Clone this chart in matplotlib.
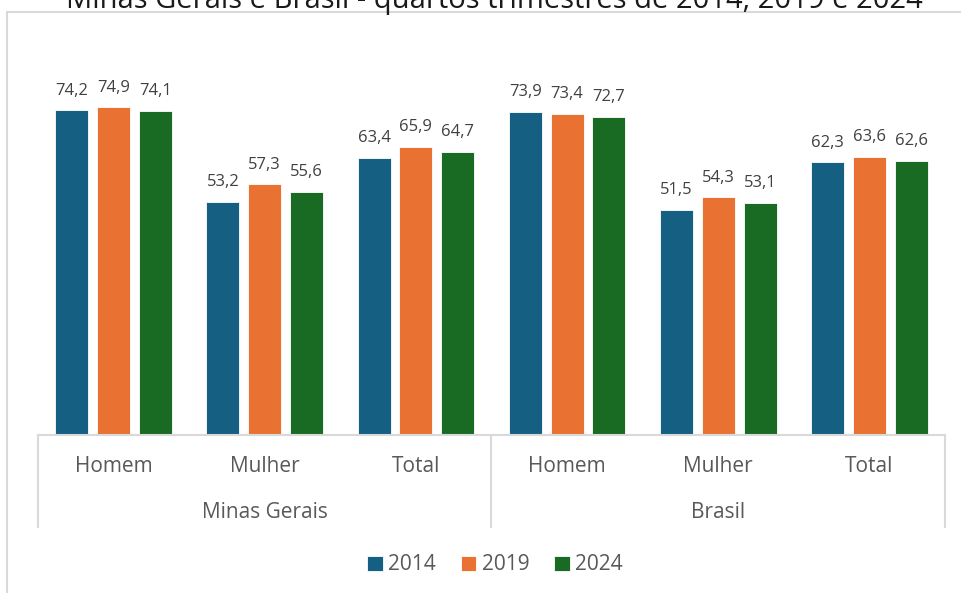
import numpy as np
import matplotlib.pyplot as plt
from matplotlib.patches import Rectangle
from matplotlib.lines import Line2D

plt.rcParams['font.family'] = ['Open Sans', 'DejaVu Sans']

# data
regions = ['Minas Gerais', 'Brasil']
categories = ['Homem', 'Mulher', 'Total']
years = ['2014', '2019', '2024']
vals_2014 = [74.2, 53.2, 63.4, 73.9, 51.5, 62.3]
vals_2019 = [74.9, 57.3, 65.9, 73.4, 54.3, 63.6]
vals_2024 = [74.1, 55.6, 64.7, 72.7, 53.1, 62.6]
colors = ['#156082', '#E97132', '#196B24']
title = 'Minas Gerais e Brasil - quartos trimestres de 2014, 2019 e 2024'

W, H = 961, 593
fig = plt.figure(figsize=(W / 100, H / 100), dpi=100)

def fx(px):
    return px / W

def fy(py):
    return 1 - py / H

# chart area border (light grey, partly cut off)
fig.patches.append(Rectangle((fx(7), fy(1000)), 2, fy(12) - fy(1000),
                             transform=fig.transFigure, fill=False,
                             edgecolor='#D9D9D9', linewidth=1.5))
# title is cut by the top edge in the reference
fig.text(fx(494), fy(8), title, ha='center', va='baseline', fontsize=21,
         color='#1a1a1a')

# plot area
x0, x1, ybase, ytop = 38, 945, 435, 85
ax = fig.add_axes([fx(x0), fy(ybase), fx(x1) - fx(x0), fy(ytop) - fy(ybase)])
ax.set_xlim(0, 6)
ax.set_ylim(0, 80)
ax.axis('off')

x = np.arange(6) + 0.5
bw = 0.218
step = 0.277
series = [vals_2014, vals_2019, vals_2024]
for i, (vals, c) in enumerate(zip(series, colors)):
    xs = x + (i - 1) * step
    ax.bar(xs, vals, width=bw, color=c, edgecolor='white', linewidth=0.6,
           label=years[i])
    for xv, v in zip(xs, vals):
        ax.annotate(f'{v:.1f}'.replace('.', ','), (xv, v), xytext=(0, 8.5),
                    textcoords='offset points', ha='center', va='bottom',
                    fontsize=12, color='#404040')

# multi-level category axis
grey = '#D9D9D9'
fig.add_artist(Line2D([fx(x0), fx(x1)], [fy(ybase), fy(ybase)],
                      color=grey, linewidth=1.5))
for px in [38, 491.5, 945]:
    fig.add_artist(Line2D([fx(px), fx(px)], [fy(ybase), fy(527)],
                          color=grey, linewidth=1.5))
cat_w = (x1 - x0) / 6
for k in range(6):
    fig.text(fx(x0 + cat_w * (k + 0.5)), fy(466), categories[k % 3],
             ha='center', va='center', fontsize=15, color='#595959')
for k, r in enumerate(regions):
    fig.text(fx(x0 + cat_w * (3 * k + 1.5)), fy(513), r,
             ha='center', va='center', fontsize=15, color='#595959')

handles, labels = ax.get_legend_handles_labels()
fig.legend(handles, labels, loc='center', bbox_to_anchor=(fx(495), fy(565)),
           ncol=3, frameon=False, fontsize=15, handlelength=0.75,
           handleheight=0.75, handletextpad=0.25, columnspacing=1.2,
           labelcolor='#595959')

fig.savefig('out.png', dpi=100)
